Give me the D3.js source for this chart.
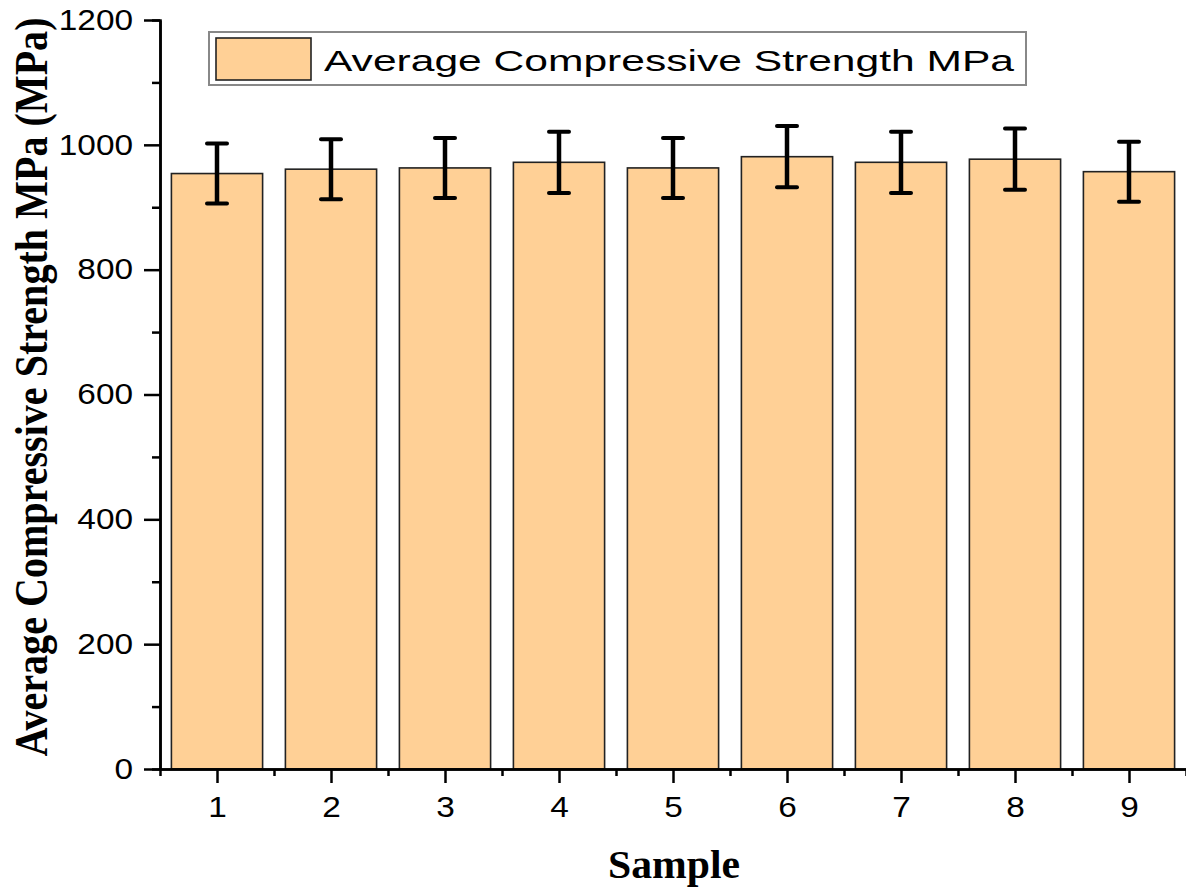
<!DOCTYPE html>
<html>
<head>
<meta charset="utf-8">
<script src="https://cdn.jsdelivr.net/npm/d3@7"></script>
<style>
  body { margin: 0; background: #fff; }
  svg { display: block; }
  .axis path, .axis line { stroke: #000; stroke-width: 2.5; }
  .tick-label { font-family: "Liberation Sans", Arial, sans-serif; font-size: 29px; fill: #000; }
</style>
</head>
<body>
<div id="vis"></div>
<script>
/* Data */
var samples = [1, 2, 3, 4, 5, 6, 7, 8, 9];
var strength = [954, 961, 963, 972, 963, 981, 972, 977, 957];
var strengthErr = [48, 48, 48, 49, 48, 49, 49, 49, 48];
var yTicks = [0, 200, 400, 600, 800, 1000, 1200];
var yMinorTicks = [100, 300, 500, 700, 900, 1100];
var xMinorTicks = [0.5, 1.5, 2.5, 3.5, 4.5, 5.5, 6.5, 7.5, 8.5, 9.5];
var legendLabel = "Average Compressive Strength MPa";

var W = 1186, H = 888;
var barFill = "#ffd096";

var svg = d3.select("#vis").append("svg").attr("width", W).attr("height", H);

/* Scales */
var x = d3.scaleLinear().domain([0.5, 9.5]).range([160, 1186]);
var y = d3.scaleLinear().domain([0, 1200]).range([769, 20]);
var step = x(2) - x(1);
var barW = step * 0.8;

/* Bars */
svg.append("g").selectAll("rect")
    .data(samples)
    .enter().append("rect")
    .attr("x", function (d) { return x(d) - barW / 2; })
    .attr("y", function (d, i) { return y(strength[i]); })
    .attr("width", barW)
    .attr("height", function (d, i) { return y(0) - y(strength[i]); })
    .attr("fill", barFill)
    .attr("stroke", "#222")
    .attr("stroke-width", 1.6);

/* Error bars */
var eb = svg.append("g").attr("stroke", "#000");
samples.forEach(function (d, i) {
    var cx = x(d), top = y(strength[i] + strengthErr[i]), bot = y(strength[i] - strengthErr[i]);
    eb.append("line").attr("x1", cx).attr("x2", cx).attr("y1", top).attr("y2", bot).attr("stroke-width", 4.5);
    eb.append("line").attr("x1", cx - 10).attr("x2", cx + 10).attr("y1", top).attr("y2", top).attr("stroke-width", 4).attr("stroke-linecap", "round");
    eb.append("line").attr("x1", cx - 10).attr("x2", cx + 10).attr("y1", bot).attr("y2", bot).attr("stroke-width", 4).attr("stroke-linecap", "round");
});

/* Axes */
var yAxisMinor = svg.append("g").attr("class", "axis")
    .attr("transform", "translate(160,0)")
    .call(d3.axisLeft(y).tickValues(yMinorTicks).tickSize(8).tickFormat(""));
var yAxis = svg.append("g").attr("class", "axis")
    .attr("transform", "translate(160,0)")
    .call(d3.axisLeft(y).tickValues(yTicks).tickSize(16).tickSizeOuter(0).tickPadding(11).tickFormat(d3.format("d")));
var xAxisMinor = svg.append("g").attr("class", "axis")
    .attr("transform", "translate(0,769)")
    .call(d3.axisBottom(x).tickValues(xMinorTicks).tickSize(7).tickSizeOuter(0).tickFormat(""));
var xAxis = svg.append("g").attr("class", "axis")
    .attr("transform", "translate(0,769)")
    .call(d3.axisBottom(x).tickValues(samples).tickSize(14).tickSizeOuter(0).tickPadding(13));

svg.selectAll(".axis text").attr("class", "tick-label").attr("font-size", null).attr("font-family", null);
// the picture is a bit wide, stretch the tick labels
svg.selectAll(".tick-label").each(function () {
    var len = this.getComputedTextLength();
    d3.select(this).attr("textLength", len * 1.15).attr("lengthAdjust", "spacingAndGlyphs");
});

/* Axis titles */
svg.append("text")
    .attr("transform", "translate(47," + 387 + ") rotate(-90)")
    .attr("text-anchor", "middle")
    .attr("font-family", "'Liberation Serif', 'Times New Roman', serif")
    .attr("font-weight", "bold")
    .attr("font-size", 46)
    .attr("textLength", 739)
    .attr("lengthAdjust", "spacingAndGlyphs")
    .text("Average Compressive Strength MPa (MPa)");

svg.append("text")
    .attr("x", 674).attr("y", 878)
    .attr("text-anchor", "middle")
    .attr("font-family", "'Liberation Serif', 'Times New Roman', serif")
    .attr("font-weight", "bold")
    .attr("font-size", 40)
    .attr("textLength", 132)
    .attr("lengthAdjust", "spacingAndGlyphs")
    .text("Sample");

/* Legend */
var legend = svg.append("g");
legend.append("rect")
    .attr("x", 209).attr("y", 32).attr("width", 817).attr("height", 53)
    .attr("fill", "#fff").attr("stroke", "#888").attr("stroke-width", 2);
legend.append("rect")
    .attr("x", 216).attr("y", 38).attr("width", 95).attr("height", 42)
    .attr("fill", barFill).attr("stroke", "#222").attr("stroke-width", 1.6);
legend.append("text")
    .attr("x", 324).attr("y", 71)
    .attr("font-family", "'Liberation Sans', Arial, sans-serif")
    .attr("font-size", 30)
    .attr("textLength", 690)
    .attr("lengthAdjust", "spacingAndGlyphs")
    .text(legendLabel);
</script>
</body>
</html>
